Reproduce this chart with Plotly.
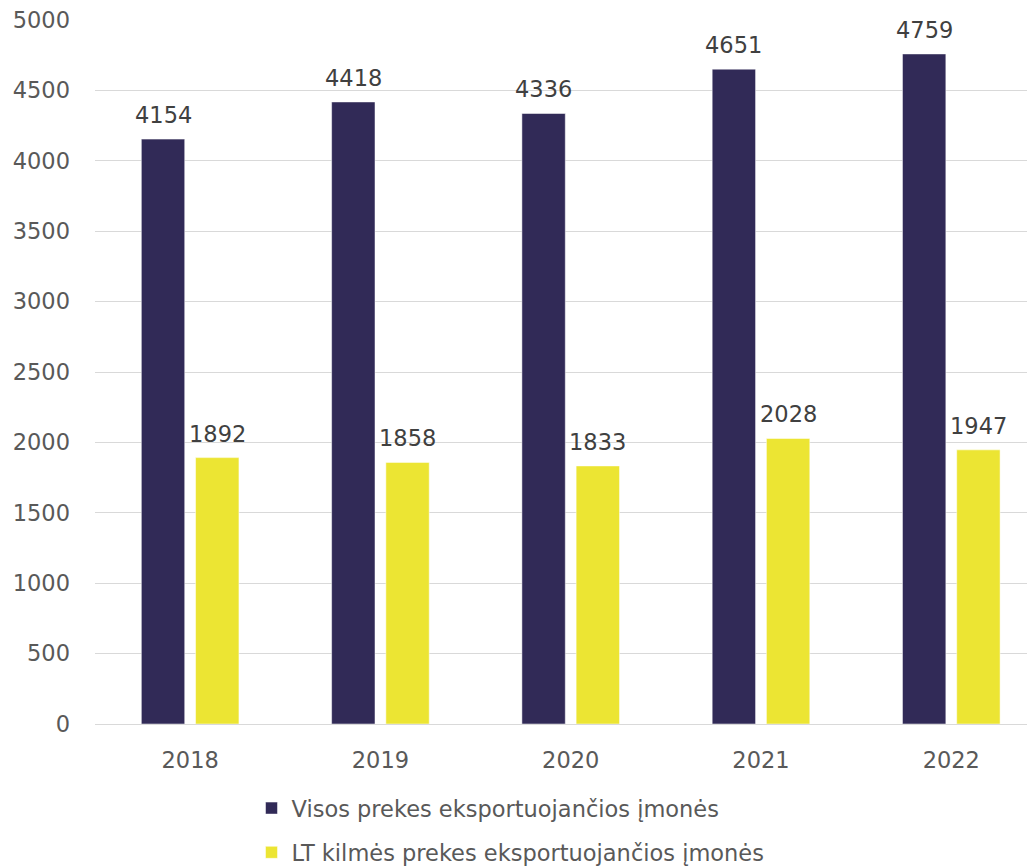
import plotly.graph_objects as go

years = ['2018', '2019', '2020', '2021', '2022']
visos = [4154, 4418, 4336, 4651, 4759]
lt_kilmes = [1892, 1858, 1833, 2028, 1947]

BARGAP = 0.43
slot = (1 - BARGAP) / 2

fig = go.Figure()

series = [
    ('Visos prekes eksportuojančios įmonės', visos, '#312A57', -slot / 2),
    ('LT kilmės prekes eksportuojančios įmonės', lt_kilmes, '#ECE533', slot / 2),
]

for name, vals, color, shift in series:
    fig.add_trace(go.Bar(x=years, y=vals, name=name, legendgroup=name,
                         marker_color=color))
    # data labels a bit above the bars
    for i, v in enumerate(vals):
        fig.add_annotation(
            x=i + shift, y=v, text=str(v), showarrow=False,
            yanchor='bottom', yshift=9,
            font=dict(size=22.5, color='#404040')
        )

# page body has an 8px margin, so the figure is 8px smaller than the window
fig.update_layout(
    width=1027, height=859,
    barmode='group',
    bargap=BARGAP,
    bargroupgap=0.2,
    template='plotly_white',
    font=dict(family='Verdana, DejaVu Sans, sans-serif', size=22.5, color='#595959'),
    margin=dict(t=12, l=87, r=0, b=143, autoexpand=False),
    legend=dict(
        orientation='v', x=0.1665, xanchor='left', y=-0.0894, yanchor='top',
        font=dict(size=22.5, color='#595959'),
        itemwidth=30, tracegroupgap=12
    ),
    plot_bgcolor='white', paper_bgcolor='white'
)

fig.update_xaxes(
    range=[-0.5, 4.44],
    showgrid=False, automargin=False,
    showline=True, linecolor='#D9D9D9', linewidth=1,
    ticks='', ticklabelstandoff=16
)
fig.update_yaxes(
    range=[0, 5000], dtick=500, automargin=False,
    showgrid=True, gridcolor='#D9D9D9', gridwidth=1,
    zeroline=False, ticks='', ticklabelstandoff=24,
    ticklabeloverflow='allow'
)

fig.write_html("out.html")
